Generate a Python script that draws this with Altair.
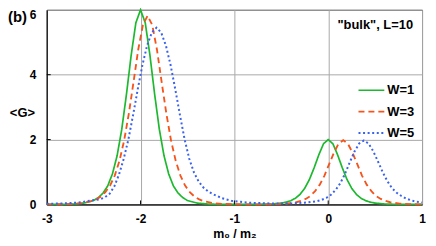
import altair as alt
import pandas as pd

series_names = ["W=1", "W=3", "W=5"]
series_colors = ["#1cb82e", "#f5541c", "#3a62ee"]
series_dash = [[1, 0], [6, 4], [2, 2.6]]
series_width = [1.7, 2.0, 2.6]

x_w1 = [-3.0, -2.8, -2.7, -2.6, -2.5, -2.45, -2.4, -2.35, -2.3, -2.25, -2.2, -2.15, -2.1, -2.05, -2.0,
        -1.95, -1.9, -1.85, -1.8, -1.75, -1.7, -1.65, -1.6, -1.55, -1.5, -1.4, -1.3, -1.2, -1.0, -0.8,
        -0.6, -0.5, -0.45, -0.4, -0.35, -0.3, -0.25, -0.2, -0.15, -0.1, -0.05, 0.0, 0.05, 0.1, 0.15,
        0.2, 0.25, 0.3, 0.35, 0.4, 0.45, 0.5, 0.6, 0.7, 0.8, 1.0]
g_w1 = [0.0, 0.005, 0.015, 0.043, 0.12, 0.21, 0.35, 0.57, 0.94, 1.50, 2.32, 3.40, 4.60, 5.60, 6.00,
        5.60, 4.60, 3.40, 2.32, 1.50, 0.94, 0.57, 0.35, 0.21, 0.12, 0.043, 0.015, 0.005, 0.0, 0.0,
        0.014, 0.041, 0.069, 0.115, 0.19, 0.31, 0.50, 0.77, 1.13, 1.53, 1.87, 2.00, 1.87, 1.53, 1.13,
        0.77, 0.50, 0.31, 0.19, 0.115, 0.069, 0.041, 0.014, 0.005, 0.002, 0.0]

x_w3 = [-3.0, -2.825, -2.725, -2.625, -2.525, -2.475, -2.425, -2.375, -2.325, -2.275, -2.225, -2.175,
        -2.125, -2.075, -2.025, -1.975, -1.925, -1.875, -1.825, -1.775, -1.725, -1.675, -1.625, -1.575,
        -1.525, -1.475, -1.425, -1.375, -1.325, -1.225, -1.125, -1.025, -0.8, -0.64, -0.54, -0.44,
        -0.34, -0.29, -0.24, -0.19, -0.14, -0.09, -0.04, 0.01, 0.06, 0.11, 0.16, 0.21, 0.26, 0.31,
        0.36, 0.41, 0.46, 0.51, 0.56, 0.61, 0.66, 0.76, 0.86, 0.96, 1.0]
g_w3 = [0.002, 0.006, 0.016, 0.040, 0.10, 0.155, 0.24, 0.38, 0.58, 0.89, 1.34, 1.97,
        2.80, 3.77, 4.77, 5.53, 5.82, 5.53, 4.77, 3.77, 2.80, 1.97, 1.34, 0.89,
        0.58, 0.38, 0.24, 0.155, 0.10, 0.040, 0.016, 0.006, 0.002, 0.004, 0.010, 0.026,
        0.068, 0.11, 0.17, 0.26, 0.41, 0.61, 0.89, 1.24, 1.59, 1.87, 1.98, 1.87, 1.59, 1.24,
        0.89, 0.61, 0.41, 0.26, 0.17, 0.11, 0.068, 0.026, 0.010, 0.004, 0.003]

x_w5 = [-3.0, -2.83, -2.73, -2.63, -2.53, -2.43, -2.38, -2.33, -2.28, -2.23, -2.18, -2.13, -2.08,
        -2.03, -1.98, -1.93, -1.88, -1.83, -1.78, -1.73, -1.68, -1.63, -1.58, -1.53, -1.48, -1.43,
        -1.38, -1.33, -1.28, -1.23, -1.13, -1.03, -0.93, -0.83, -0.6, -0.4, -0.22, -0.12, -0.07,
        -0.02, 0.03, 0.08, 0.13, 0.18, 0.23, 0.28, 0.33, 0.38, 0.43, 0.48, 0.53, 0.58, 0.63, 0.68,
        0.73, 0.78, 0.83, 0.88, 0.93, 1.0]
g_w5 = [0.02, 0.03, 0.045, 0.07, 0.12, 0.16, 0.22, 0.33, 0.55, 0.92, 1.40, 2.00, 2.75,
        3.55, 4.30, 4.90, 5.30, 5.45, 5.30, 4.90, 4.30, 3.55, 2.75, 2.00, 1.40, 0.98,
        0.70, 0.52, 0.40, 0.32, 0.19, 0.11, 0.08, 0.05, 0.03, 0.03, 0.06, 0.10, 0.14,
        0.20, 0.30, 0.45, 0.66, 0.95, 1.30, 1.63, 1.88, 1.97, 1.88, 1.64, 1.33, 1.00, 0.72, 0.50,
        0.36, 0.26, 0.18, 0.13, 0.09, 0.06]

x_ticks = [-3, -2, -1, 0, 1]
y_ticks = [0, 2, 4, 6]
inner_x_ticks = [-2, -1, 0]
inner_y_ticks = [2, 4]
panel_label = "(b)"
box_label = '"bulk", L=10'
x_title = "m₀ / m₂"
y_title = "<G>"

rows = []
for name, xs, gs in zip(series_names, [x_w1, x_w3, x_w5], [g_w1, g_w3, g_w5]):
    for i, (a, b) in enumerate(zip(xs, gs)):
        rows.append({"m": a, "G": b, "W": name, "order": i})
df = pd.DataFrame(rows)

W, H = 378, 196
FONT = "Liberation Sans"

x_scale = alt.Scale(domain=[-3, 1], nice=False, zero=False)
y_scale = alt.Scale(domain=[0, 6], nice=False, zero=False)

x_axis = alt.Axis(values=x_ticks, title=x_title, grid=True, labelPadding=9,
                  labelExpr="datum.value < 0 ? '-' + abs(datum.value) : '' + datum.value",
                  titleY=33, titleBaseline="alphabetic", titleFontSize=12.5)
y_axis = alt.Axis(values=y_ticks, title=y_title, grid=True, labelPadding=11,
                  titleAngle=0, titleX=-25, titleY=103, titleAlign="center",
                  titleBaseline="middle", titleFontSize=13,
                  labelBaseline={"condition": {"test": "datum.value == 6", "value": "top"},
                                 "value": "middle"})

legend_kw = dict(title=None, orient="none", legendX=313, legendY=67,
                 symbolType="stroke", symbolSize=676, symbolStrokeWidth=2,
                 labelFont=FONT, labelFontSize=13, labelFontWeight="bold",
                 labelColor="black", labelOffset=2, rowPadding=0.5, padding=0)

lines = alt.Chart(df).mark_line().encode(
    x=alt.X("m:Q", scale=x_scale, axis=x_axis),
    y=alt.Y("G:Q", scale=y_scale, axis=y_axis),
    color=alt.Color("W:N", scale=alt.Scale(domain=series_names, range=series_colors),
                    legend=alt.Legend(**legend_kw)),
    strokeDash=alt.StrokeDash("W:N", scale=alt.Scale(domain=series_names, range=series_dash),
                              legend=alt.Legend(**legend_kw)),
    strokeWidth=alt.StrokeWidth("W:N", scale=alt.Scale(domain=series_names, range=series_width),
                                legend=None),
    order="order:Q",
)

xt = alt.Chart(pd.DataFrame({"m": inner_x_ticks})).mark_rule(color="black", strokeWidth=1).encode(
    x=alt.X("m:Q", scale=x_scale, axis=x_axis), y=alt.value(H), y2=alt.value(H - 4))
yt = alt.Chart(pd.DataFrame({"G": inner_y_ticks})).mark_rule(color="black", strokeWidth=1).encode(
    y=alt.Y("G:Q", scale=y_scale, axis=y_axis), x=alt.value(0), x2=alt.value(4))

plab = alt.Chart(pd.DataFrame({"t": [panel_label]})).mark_text(
    font=FONT, fontSize=15, fontWeight="bold", align="left", baseline="middle", color="black"
).encode(text="t:N", x=alt.value(-39), y=alt.value(7))

blab = alt.Chart(pd.DataFrame({"t": [box_label]})).mark_text(
    font=FONT, fontSize=13, fontWeight="bold", align="right", baseline="middle", color="black"
).encode(text="t:N", x=alt.value(369), y=alt.value(15))

chart = alt.layer(lines, xt, yt, plab, blab).properties(
    width=W, height=H,
    autosize=alt.AutoSizeParams(type="none"),
    padding={"left": 39, "top": 1, "right": 6, "bottom": 37},
    background="white",
).configure_view(stroke="black", strokeWidth=1).configure_axis(
    labelFont=FONT, labelFontSize=12, labelFontWeight="bold", labelColor="black",
    titleFont=FONT, titleFontWeight="bold", titleColor="black",
    domainColor="black", domainWidth=1, tickSize=0,
    gridColor="#a8a8a8", gridWidth=1, labelFlush=False,
)

chart.save("out.html", embed_options={"renderer": "svg", "actions": False})
